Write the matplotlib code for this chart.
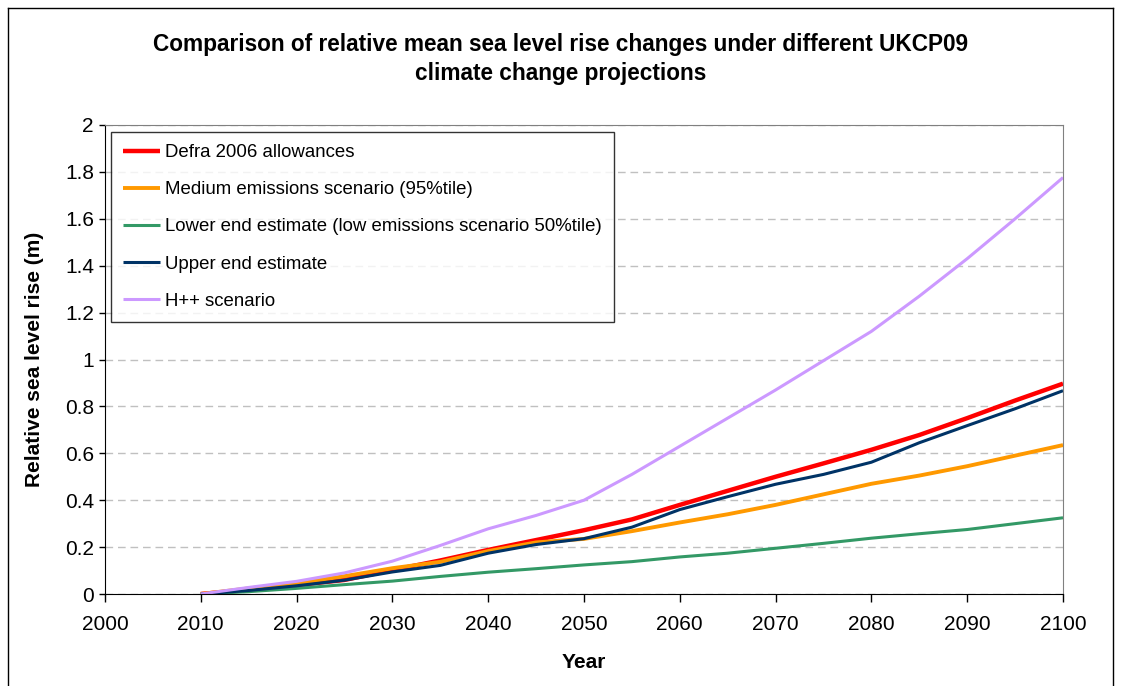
import matplotlib
matplotlib.use("Agg")
import matplotlib.pyplot as plt
from matplotlib.lines import Line2D

plt.rcParams['font.family'] = ['Liberation Sans', 'DejaVu Sans']

years = [2010, 2015, 2020, 2025, 2030, 2035, 2040, 2045, 2050, 2055,
         2060, 2065, 2070, 2075, 2080, 2085, 2090, 2095, 2100]

defra_2006 = [0.0, 0.018, 0.038, 0.06, 0.102, 0.143, 0.188, 0.23, 0.272, 0.318,
              0.38, 0.44, 0.5, 0.557, 0.615, 0.678, 0.75, 0.825, 0.897]
medium_95 = [0.0, 0.024, 0.045, 0.076, 0.11, 0.137, 0.183, 0.22, 0.235, 0.268,
             0.305, 0.34, 0.38, 0.425, 0.47, 0.505, 0.545, 0.59, 0.635]
lower_end = [0.0, 0.01, 0.024, 0.04, 0.055, 0.075, 0.093, 0.108, 0.124, 0.138,
             0.158, 0.174, 0.195, 0.216, 0.238, 0.257, 0.275, 0.3, 0.325]
upper_end = [0.0, 0.015, 0.035, 0.059, 0.094, 0.122, 0.174, 0.211, 0.236, 0.285,
             0.36, 0.415, 0.468, 0.51, 0.562, 0.645, 0.718, 0.79, 0.867]
h_plus_plus = [0.0, 0.028, 0.054, 0.09, 0.14, 0.207, 0.278, 0.335, 0.4, 0.51,
               0.63, 0.75, 0.87, 0.995, 1.12, 1.27, 1.43, 1.6, 1.776]

series = [
    ("Defra 2006 allowances", defra_2006, "#FF0000", 3.2),
    ("Medium emissions scenario (95%tile)", medium_95, "#FF9900", 2.8),
    ("Lower end estimate (low emissions scenario 50%tile)", lower_end, "#339966", 2.2),
    ("Upper end estimate", upper_end, "#003366", 2.2),
    ("H++ scenario", h_plus_plus, "#CC99FF", 2.2),
]

W, H = 1121, 686
fig = plt.figure(figsize=(W / 100, H / 100), dpi=100)
ax = fig.add_axes([105 / W, 1 - 594 / H, (1063 - 105) / W, (594 - 125) / H])

for label, vals, color, lw in series:
    ax.plot(years, vals, color=color, lw=lw, label=label, solid_capstyle='butt')

ax.set_xlim(2000, 2100)
ax.set_ylim(0, 2)
ax.set_xticks(range(2000, 2101, 10))
ax.set_yticks([i / 5 for i in range(11)])
ax.set_yticklabels(["0", "0.2", "0.4", "0.6", "0.8", "1", "1.2", "1.4", "1.6", "1.8", "2"])
ax.tick_params(axis='both', labelsize=15, direction='out', color='black', width=1)
ax.tick_params(axis='x', length=6, pad=9)
ax.tick_params(axis='y', length=4, pad=4)

ax.yaxis.grid(True, color='#c0c0c0', lw=1, linestyle=(0, (5.5, 3.5)))
ax.set_axisbelow(True)
for side in ('top', 'right'):
    ax.spines[side].set_color('#808080')
for side in ('left', 'bottom'):
    ax.spines[side].set_color('black')

ax.set_xlabel("Year", fontsize=15, fontweight='bold', labelpad=14)
ax.set_ylabel("Relative sea level rise (m)", fontsize=15, fontweight='bold', labelpad=15)

fig.text(0.5, 1 - 59 / H,
         "Comparison of relative mean sea level rise changes under different UKCP09\n"
         "climate change projections",
         ha='center', va='center', fontsize=16.3, fontweight='bold', linespacing=1.3)

leg = ax.legend(loc='upper left', bbox_to_anchor=(111 / W, 1 - 132 / H),
                bbox_transform=fig.transFigure, borderaxespad=0, fontsize=13.4,
                frameon=True, fancybox=False, handlelength=2.0, handletextpad=0.25,
                labelspacing=1.08, borderpad=0.65)
leg.get_frame().set_edgecolor('black')
leg.get_frame().set_linewidth(1)

# outer chart border (bottom edge runs off the canvas)
for xs, ys in [((8, 8), (-5, 678)), ((8, 1113), (678, 678)), ((1113, 1113), (678, -5))]:
    fig.add_artist(Line2D([x / W for x in xs], [y / H for y in ys], color='black', lw=1))

fig.savefig("out.png", dpi=100)
